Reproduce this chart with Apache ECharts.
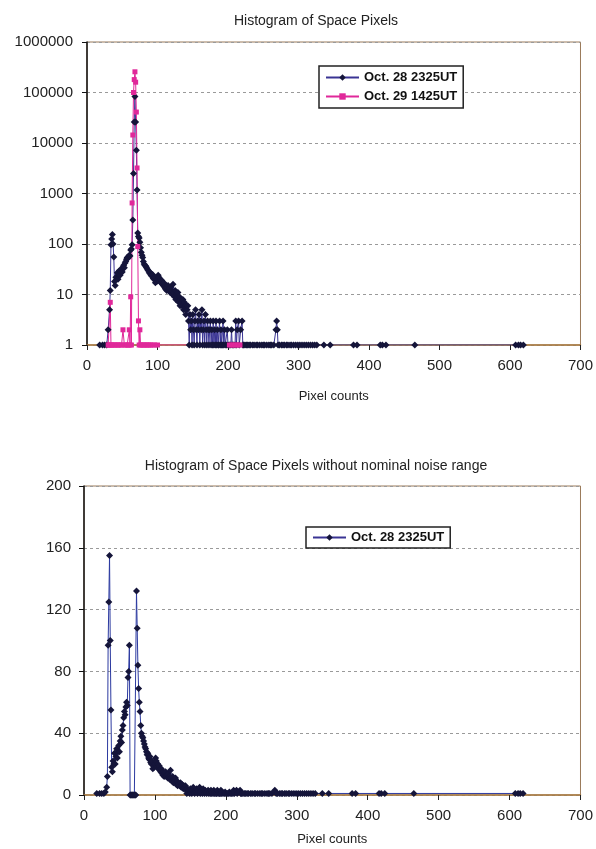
<!DOCTYPE html>
<html><head><meta charset="utf-8">
<script src="https://cdn.jsdelivr.net/npm/echarts@6/dist/echarts.min.js"></script>
<style>html,body{margin:0;padding:0;background:#fff}#c{width:596px;height:849px}</style>
</head><body><div id="c"></div>
<script>
const topTitle = 'Histogram of Space Pixels';
const bottomTitle = 'Histogram of Space Pixels without nominal noise range';
const xAxisName = 'Pixel counts';
const seriesNames = ['Oct. 28 2325UT', 'Oct. 29 1425UT'];
const xTicks = [0, 100, 200, 300, 400, 500, 600, 700];
const logTicks = [1, 10, 100, 1000, 10000, 100000, 1000000];
const linTicks = [0, 40, 80, 120, 160, 200];

// Oct. 28 2325UT: pixel count bin (10 per line) and number of pixels (same layout)
const oct28Pixel = [
  18,22,25,28,30,32,33,34,35,36,
  37,38,39,40,41,42,43,44,45,46,
  47,48,49,50,51,52,53,54,55,56,
  57,58,59,60,61,62,63,64,65,66,
  67,68,69,70,71,72,73,74,75,76,
  77,78,79,80,81,82,83,84,85,86,
  87,88,89,90,91,92,93,94,95,96,
  97,98,99,100,101,102,103,104,105,106,
  107,108,109,110,111,112,113,114,115,116,
  117,118,119,120,121,122,123,124,125,126,
  127,128,129,130,131,132,133,134,135,136,
  137,138,139,140,141,142,143,144,145,146,
  147,148,149,150,151,152,153,154,155,156,
  157,158,159,160,161,162,163,164,165,166,
  167,168,169,170,171,172,173,174,175,176,
  177,178,179,180,181,182,183,184,185,186,
  187,188,189,190,191,192,193,194,195,196,
  198,199,200,202,204,205,206,208,210,211,
  212,213,215,216,218,220,221,222,224,226,
  228,230,232,235,237,240,242,245,248,250,
  252,255,258,260,262,265,268,269,270,271,
  273,276,278,280,283,285,288,290,293,296,
  299,302,305,308,311,314,317,320,323,326,
  336,345,378,383,416,419,424,465,608,612,
  615,619];
const oct28Count = [
  1,1,1,1,2,5,12,97,125,155,
  100,55,18,15,22,20,27,20,25,30,
  24,28,32,28,35,38,34,42,45,50,
  54,52,57,60,58,76,80,97,300,2500,
  26000,83000,26000,7200,1170,166,140,132,108,84,
  69,60,54,45,40,38,37,35,33,31,
  30,28,26,27,24,23,25,21,20,22,
  17,19,18,20,24,22,18,20,17,19,
  16,15,17,14,13,15,12,14,15,12,
  13,11,14,12,10,16,11,9,12,8,
  10,9,11,7,9,6,8,7,6,8,
  5,7,6,4,6,5,6,3,1,4,
  2,3,1,4,2,1,3,5,2,1,
  3,2,4,1,3,2,5,1,2,3,
  1,4,2,1,3,2,1,2,3,1,
  2,1,3,1,2,1,3,1,2,1,
  1,3,1,2,1,1,3,1,2,1,
  1,2,1,1,1,2,1,1,1,3,
  1,2,3,1,2,3,1,1,1,1,
  1,1,1,1,1,1,1,1,1,1,
  1,1,1,1,1,1,2,3,2,1,
  1,1,1,1,1,1,1,1,1,1,
  1,1,1,1,1,1,1,1,1,1,
  1,1,1,1,1,1,1,1,1,1,
  1,1];

// Oct. 29 1425UT
const oct29Pixel = [
  30,31,32,33,34,35,37,39,41,43,
  45,47,49,51,53,55,57,59,60,61,
  62,63,64,65,66,67,68,69,70,71,
  72,73,74,75,76,78,80,82,84,86,
  88,90,93,96,100,202,205,208,211,214,
  217];
const oct29Count = [
  1,1,1,7,1,1,1,1,1,1,
  1,1,1,2,1,1,1,1,2,1,
  9,1,650,14400,100000,180000,257000,160000,41000,3200,
  89,3,1,2,1,1,1,1,1,1,
  1,1,1,1,1,1,1,1,1,1,
  1];

// nominal noise range removed in the lower chart
const noiseRange = [65, 73];

const FONT = "'Liberation Sans', Arial, sans-serif";
const top28 = oct28Pixel.map((x, i) => [x, oct28Count[i]]);
const top29 = oct29Pixel.map((x, i) => [x, oct29Count[i]]);
const bottom28 = oct28Pixel.map((x, i) => [x, (x >= noiseRange[0] && x <= noiseRange[1]) ? 0 : oct28Count[i]]);

const chart = echarts.init(document.getElementById('c'), null, {renderer: 'canvas'});

function xAxisCfg(grid, gap) {
  return {
    gridIndex: grid, type: 'value', min: xTicks[0], max: xTicks[xTicks.length - 1],
    interval: xTicks[1] - xTicks[0],
    axisLine: {show: true, onZero: false, lineStyle: {color: '#a8783c', width: 1.5}},
    axisTick: {show: true, length: 5, lineStyle: {color: '#222'}},
    axisLabel: {fontSize: 15, color: '#222', margin: 13, fontFamily: FONT},
    splitLine: {show: false},
    name: xAxisName, nameLocation: 'middle', nameGap: gap,
    nameTextStyle: {fontSize: 13, color: '#222', fontFamily: FONT}
  };
}
const dashed = {show: true, lineStyle: {type: [3, 3], color: '#9a9a9a', width: 1}};
const item28 = {color: '#15153a'};

const option = {
  animation: false,
  backgroundColor: '#fff',
  title: [
    {text: topTitle, left: 311, top: 9, textAlign: 'center',
     textStyle: {fontSize: 14, fontWeight: 'normal', color: '#222', fontFamily: FONT}},
    {text: bottomTitle, left: 311, top: 454, textAlign: 'center',
     textStyle: {fontSize: 14, fontWeight: 'normal', color: '#222', fontFamily: FONT}}
  ],
  legend: [
    {data: seriesNames, orient: 'vertical', left: 319, top: 66, padding: [5, 6, 5, 6], itemGap: 6,
     itemWidth: 33, itemHeight: 8, borderColor: '#222', borderWidth: 1.5, backgroundColor: '#fff',
     textStyle: {fontSize: 13, color: '#111', fontWeight: 'bold', fontFamily: FONT}},
    {data: [seriesNames[0]], orient: 'vertical', left: 306, top: 527, padding: [4, 6, 4, 6],
     itemWidth: 33, itemHeight: 8, borderColor: '#222', borderWidth: 1.5, backgroundColor: '#fff',
     textStyle: {fontSize: 13, color: '#111', fontWeight: 'bold', fontFamily: FONT}}
  ],
  grid: [
    {left: 87, right: 10, top: 42, height: 303, show: true, borderColor: '#9a7a5a', borderWidth: 1},
    {left: 84, right: 12, top: 486, height: 309, show: true, borderColor: '#9a7a5a', borderWidth: 1}
  ],
  xAxis: [xAxisCfg(0, 45), xAxisCfg(1, 38)],
  yAxis: [
    {gridIndex: 0, type: 'log', logBase: 10, min: logTicks[0], max: logTicks[logTicks.length - 1], splitNumber: 6,
     axisLine: {show: true, lineStyle: {color: '#111', width: 1.5}},
     axisTick: {show: true, length: 5, lineStyle: {color: '#111'}},
     axisLabel: {fontSize: 15, color: '#222', margin: 14, fontFamily: FONT,
                 formatter: v => String(Math.round(v))},
     splitLine: dashed},
    {gridIndex: 1, type: 'value', min: linTicks[0], max: linTicks[linTicks.length - 1],
     interval: linTicks[1] - linTicks[0],
     axisLine: {show: true, lineStyle: {color: '#111', width: 1.5}},
     axisTick: {show: true, length: 5, lineStyle: {color: '#111'}},
     axisLabel: {fontSize: 15, color: '#222', margin: 13, fontFamily: FONT},
     splitLine: dashed}
  ],
  series: [
    {name: seriesNames[0], type: 'line', xAxisIndex: 0, yAxisIndex: 0, data: top28,
     symbol: 'diamond', symbolSize: 7, lineStyle: {color: '#3a3494', width: 1}, itemStyle: item28},
    {name: seriesNames[1], type: 'line', xAxisIndex: 0, yAxisIndex: 0, data: top29,
     symbol: 'rect', symbolSize: 5, lineStyle: {color: '#e0289a', width: 1}, itemStyle: {color: '#e0289a'}},
    {name: seriesNames[0], type: 'line', xAxisIndex: 1, yAxisIndex: 1, data: bottom28,
     symbol: 'diamond', symbolSize: 7, lineStyle: {color: '#2c3aa0', width: 1}, itemStyle: item28}
  ]
};
chart.setOption(option);
</script></body></html>
